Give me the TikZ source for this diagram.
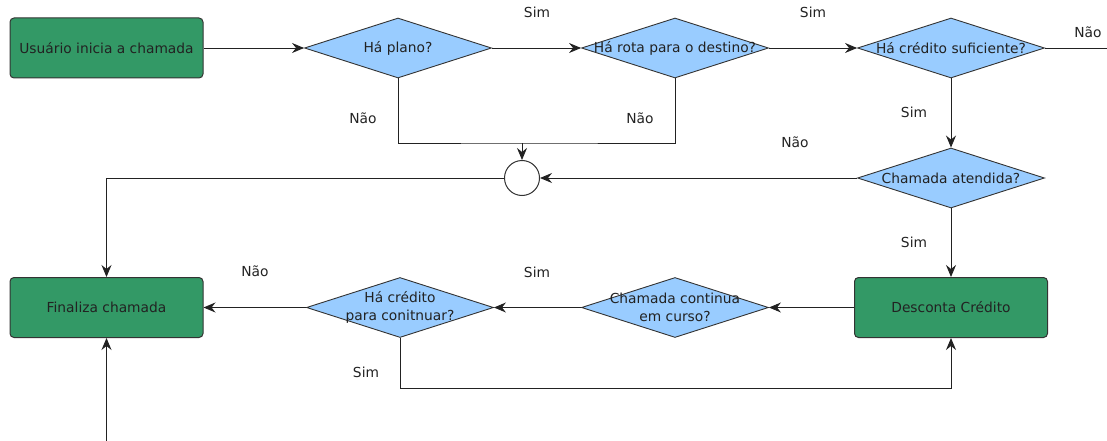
\documentclass[tikz,border=0pt]{standalone}
\usepackage{fontspec}
\setmainfont{DejaVu Sans}
\usetikzlibrary{shapes.geometric,arrows.meta}
\definecolor{boxgreen}{HTML}{339966}
\definecolor{decblue}{HTML}{99CCFF}
\definecolor{ink}{HTML}{333333}
\definecolor{txt}{HTML}{222222}
\begin{document}
\begin{tikzpicture}[x=1pt,y=-1pt, font=\fontsize{13.8}{17.5}\selectfont,
  proc/.style={draw=ink, fill=boxgreen, rounded corners=4pt, minimum width=193pt, minimum height=60pt, inner sep=0pt, line width=1pt, text=txt},
  dec/.style={draw=ink, fill=decblue, diamond, minimum width=187pt, minimum height=60pt, inner sep=0pt, line width=0.9pt},
  lbl/.style={text=txt, align=center, inner sep=0pt},
  tag/.style={text=txt},
  conn/.style={draw=txt, line width=0.9pt, -{Stealth[length=12pt,width=10pt,inset=4pt]}},
  plain/.style={draw=txt, line width=0.9pt}]
\useasboundingbox (0,0) rectangle (1107,441);

% nodes
\node[proc] (start) at (106.5,48) {Usuário inicia a chamada};
\node[dec, label={[lbl]center:Há plano?}] (d1) at (398,48) {};
\node[dec, label={[lbl]center:Há rota para o destino?}] (d2) at (675,48) {};
\node[dec, label={[lbl]center:Há crédito suficiente?}] (d3) at (951,48) {};
\node[circle, draw=ink, fill=white, line width=1pt, minimum size=35pt, inner sep=0pt] (j) at (522,178) {};
\node[dec, label={[lbl]center:Chamada atendida?}] (d4) at (951,178) {};
\node[proc] (desc) at (951,307.5) {Desconta Crédito};
\node[dec, label={[lbl]center:{Chamada continua\\em curso?}}] (d5) at (675,307.5) {};
\node[dec, label={[lbl]center:{Há crédito\\para conitnuar?}}] (d6) at (400,307.5) {};
\node[proc] (fin) at (106.5,307.5) {Finaliza chamada};

\coordinate (eR) at (1107,48);
\coordinate (eB) at (106.5,441);
\coordinate (m) at (522,143);

% connectors
\draw[conn] (start.east) -- (d1.west);
\draw[conn] (d1.east) -- (d2.west);
\draw[conn] (d2.east) -- (d3.west);
\draw[plain] (d3.east) -- (eR);
\draw[plain] (d1.south) |- (m) -| (d2.south);
\draw[conn] (m) -- (j.north);
\draw[conn] (d3.south) -- (d4.north);
\draw[conn] (d4.west) -- (j.east);
\draw[conn] (j.west) -| (fin.north);
\draw[conn] (d4.south) -- (desc.north);
\draw[conn] (desc.west) -- (d5.east);
\draw[conn] (d5.west) -- (d6.east);
\draw[conn] (d6.west) -- (fin.east);
\draw[conn] (d6.south) -- ++(0,50) -| (desc.south);
\draw[conn] (eB) -- (fin.south);

% labels
\node[tag] at (537,12) {Sim};
\node[tag] at (813,12) {Sim};
\node[tag] at (1088,32) {Não};
\node[tag] at (363,118) {Não};
\node[tag] at (640,118) {Não};
\node[tag] at (914,112) {Sim};
\node[tag] at (795,142) {Não};
\node[tag] at (914,242) {Sim};
\node[tag] at (255,271) {Não};
\node[tag] at (537,272) {Sim};
\node[tag] at (366,372) {Sim};
\end{tikzpicture}
\end{document}
